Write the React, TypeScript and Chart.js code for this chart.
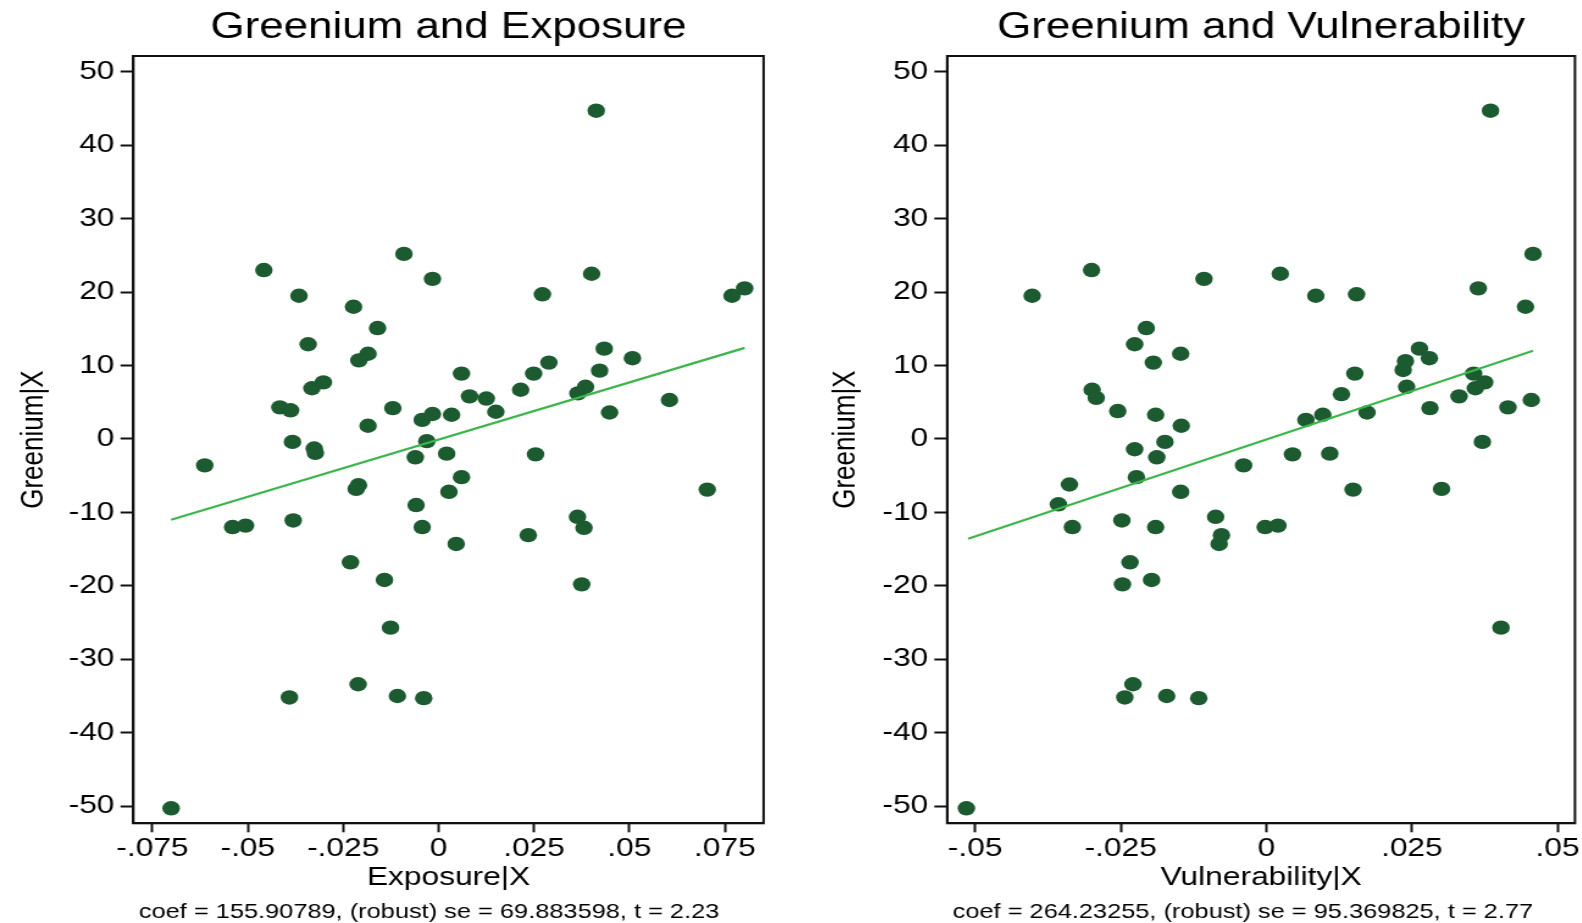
import React, { useEffect, useRef } from "react";
import { Chart, registerables } from "chart.js";

Chart.register(...registerables);

// ---------------- data ----------------
const exposureX = [-0.0701, -0.0613, -0.054, -0.0506, -0.0458, -0.0366, -0.0416, -0.0388, -0.0383, -0.0381, -0.0391, -0.0342, -0.0332, -0.0302, -0.0326, -0.0323, -0.0223, -0.0209, -0.0185, -0.016, -0.0185, -0.0231, -0.021, -0.0216, -0.0211, -0.0142, -0.0126, -0.012, -0.0091, -0.0108, -0.0016, -0.0061, -0.0043, -0.0016, -0.0031, -0.0059, -0.0043, -0.0039, 0.0021, 0.0034, 0.0027, 0.006, 0.006, 0.0046, 0.0081, 0.0125, 0.015, 0.0215, 0.0249, 0.0289, 0.0272, 0.0254, 0.0235, 0.0365, 0.0385, 0.0422, 0.0434, 0.0401, 0.0413, 0.0448, 0.0364, 0.0381, 0.0375, 0.0508, 0.0605, 0.0704, 0.0769, 0.0802];
const exposureY = [-50.3, -3.6, -12.0, -11.8, 23.0, 19.5, 4.3, 3.9, -0.4, -11.1, -35.2, 12.9, 6.9, 7.7, -1.3, -1.9, 18.0, 10.7, 11.6, 15.1, 1.8, -16.8, -6.3, -6.8, -33.4, -19.2, -25.7, 4.2, 25.2, -35.0, 21.8, -2.5, 2.6, 3.4, -0.3, -9.0, -12.0, -35.3, -2.0, 3.3, -7.2, 8.9, -5.2, -14.3, 5.8, 5.5, 3.7, 6.7, 8.9, 10.4, 19.7, -2.1, -13.1, 6.2, 7.1, 9.3, 12.3, 22.5, 44.7, 3.6, -10.6, -12.1, -19.8, 11.0, 5.3, -6.9, 19.5, 20.5];
const exposureFitX = [-0.0701, 0.0802];
const exposureFitY = [-11.0, 12.4];
const exposureTicks = [-0.075, -0.05, -0.025, 0, 0.025, 0.05, 0.075];
const exposureTickLabels = ["-.075", "-.05", "-.025", "0", ".025", ".05", ".075"];

const vulnX = [-0.0515, -0.0402, -0.03, -0.0357, -0.0338, -0.0333, -0.0299, -0.0292, -0.0255, -0.0248, -0.0247, -0.0243, -0.0234, -0.0229, -0.0226, -0.0226, -0.0223, -0.0206, -0.0194, -0.019, -0.0188, -0.019, -0.0197, -0.0174, -0.0171, -0.0147, -0.0146, -0.0147, -0.0116, -0.0107, -0.0087, -0.0077, -0.0081, -0.0039, -0.0002, 0.002, 0.0024, 0.0045, 0.0068, 0.0085, 0.0097, 0.0109, 0.0129, 0.0152, 0.0155, 0.0149, 0.0173, 0.0235, 0.0239, 0.0241, 0.0263, 0.028, 0.0281, 0.0301, 0.0331, 0.0356, 0.0359, 0.0375, 0.0371, 0.0364, 0.0385, 0.0403, 0.0415, 0.0445, 0.0458, 0.0455];
const vulnY = [-50.3, 19.5, 23.0, -8.9, -6.2, -12.0, 6.7, 5.6, 3.8, -11.1, -19.8, -35.2, -16.8, -33.4, 12.9, -1.4, -5.2, 15.1, 10.4, 3.3, -2.5, -12.0, -19.2, -0.4, -35.0, 11.6, 1.8, -7.2, -35.3, 21.8, -10.6, -13.1, -14.3, -3.6, -12.0, -11.8, 22.5, -2.1, 2.6, 19.5, 3.3, -2.0, 6.1, 8.9, 19.7, -6.9, 3.6, 9.4, 10.6, 7.1, 12.3, 11.0, 4.2, -6.8, 5.8, 8.9, 6.9, 7.7, -0.4, 20.5, 44.7, -25.7, 4.3, 18.0, 25.2, 5.3];
const vulnFitX = [-0.0512, 0.0458];
const vulnFitY = [-13.6, 12.0];
const vulnTicks = [-0.05, -0.025, 0, 0.025, 0.05];
const vulnTickLabels = ["-.05", "-.025", "0", ".025", ".05"];

const yTicks = [-50, -40, -30, -20, -10, 0, 10, 20, 30, 40, 50];
const yTickLabels = ["-50", "-40", "-30", "-20", "-10", "0", "10", "20", "30", "40", "50"];

const exposureTitle = "Greenium and Exposure";
const exposureXTitle = "Exposure|X";
const exposureNote = "coef = 155.90789, (robust) se = 69.883598, t = 2.23";
const vulnTitle = "Greenium and Vulnerability";
const vulnXTitle = "Vulnerability|X";
const vulnNote = "coef = 264.23255, (robust) se = 95.369825, t = 2.77";
const yTitle = "Greenium|X";

// ---------------- style ----------------
const FONT = "'Liberation Sans', Arial, Helvetica, sans-serif";
const STRETCH = 1.22;
const MARKER = "#1c5a30";
const FITLINE = "#3cb54a";
const AXIS = "#111";

type PanelProps = {
  title: string;
  xTitle: string;
  note: string;
  xs: number[];
  ys: number[];
  fitX: number[];
  fitY: number[];
  xTicks: number[];
  xTickLabels: string[];
  xMin: number;
  xMax: number;
  left: number;
  width: number;
  padL: number;
  padR: number;
  yWidth: number;
};

function Panel(p: PanelProps) {
  const ref = useRef<HTMLCanvasElement | null>(null);
  useEffect(() => {
    if (!ref.current) return;
    const framePlugin = {
      id: "frame",
      afterDraw(chart: any) {
        const { ctx, chartArea: a } = chart;
        ctx.save();
        ctx.strokeStyle = AXIS;
        ctx.lineWidth = 2;
        ctx.strokeRect(a.left, a.top, a.right - a.left, a.bottom - a.top);
        ctx.fillStyle = "#000";
        ctx.font = `20.8px ${FONT}`;
        ctx.textAlign = "left";
        ctx.textBaseline = "alphabetic";
        ctx.fillText(p.note, a.left + 4.5, 918);
        ctx.restore();
      },
    };
    const chart = new Chart(ref.current, {
      type: "scatter",
      data: {
        datasets: [
          {
            type: "line",
            data: p.fitX.map((x, i) => ({ x, y: p.fitY[i] })),
            borderColor: FITLINE,
            borderWidth: 2.2,
            pointRadius: 0,
            fill: false,
          } as any,
          {
            data: p.xs.map((x, i) => ({ x, y: p.ys[i] })),
            backgroundColor: MARKER,
            borderWidth: 0,
            pointRadius: 7.2,
            pointHoverRadius: 7.2,
          },
        ],
      },
      options: {
        animation: false,
        responsive: true,
        maintainAspectRatio: false,
        events: [],
        layout: { padding: { left: p.padL, right: p.padR, top: 0, bottom: 29.3 } },
        plugins: {
          legend: { display: false },
          tooltip: { enabled: false },
          title: {
            display: true,
            text: p.title,
            fullSize: false,
            color: "#000",
            font: { family: FONT, size: 36, weight: "normal", lineHeight: 1.2 },
            padding: { top: 6.4, bottom: 6.4 },
          },
        },
        scales: {
          x: {
            type: "linear",
            min: p.xMin,
            max: p.xMax,
            afterBuildTicks: (s: any) => {
              s.ticks = p.xTicks.map((v) => ({ value: v }));
            },
            ticks: {
              callback: (_v: any, i: number) => p.xTickLabels[i],
              color: "#000",
              font: { family: FONT, size: 26, lineHeight: 1.2 },
              padding: 0.5,
              maxRotation: 0,
              autoSkip: false,
            },
            grid: { drawOnChartArea: false, drawTicks: true, tickLength: 9, tickWidth: 2, tickColor: AXIS },
            border: { display: true, color: AXIS, width: 2 },
            title: {
              display: true,
              text: p.xTitle,
              color: "#000",
              font: { family: FONT, size: 26, lineHeight: 1.2 },
              padding: { top: -2, bottom: 0 },
            },
          },
          y: {
            type: "linear",
            min: -52.34,
            max: 52.15,
            afterBuildTicks: (s: any) => {
              s.ticks = yTicks.map((v) => ({ value: v }));
            },
            afterFit: (s: any) => {
              s.width = p.yWidth;
            },
            ticks: {
              callback: (_v: any, i: number) => yTickLabels[i],
              color: "#000",
              font: { family: FONT, size: 26, lineHeight: 1.2 },
              padding: 5,
              autoSkip: false,
            },
            grid: { drawOnChartArea: false, drawTicks: true, tickLength: 10.5, tickWidth: 2, tickColor: AXIS },
            border: { display: true, color: AXIS, width: 2 },
            title: {
              display: true,
              text: yTitle,
              color: "#000",
              font: { family: FONT, size: 26, lineHeight: 1.2 },
              padding: 0,
            },
          },
        },
      } as any,
      plugins: [framePlugin],
    });
    return () => chart.destroy();
  }, []);
  return (
    <div
      style={{
        position: "absolute",
        left: p.left,
        top: 0,
        width: p.width,
        height: 923,
        transform: `scaleX(${STRETCH})`,
        transformOrigin: "0 0",
      }}
    >
      <canvas ref={ref} />
    </div>
  );
}

export default function App() {
  return (
    <div
      style={{
        position: "fixed",
        left: 0,
        top: 0,
        width: 1582,
        height: 923,
        overflow: "hidden",
        background: "#fff",
      }}
    >
      <Panel
        title={exposureTitle}
        xTitle={exposureXTitle}
        note={exposureNote}
        xs={exposureX}
        ys={exposureY}
        fitX={exposureFitX}
        fitY={exposureFitY}
        xTicks={exposureTicks}
        xTickLabels={exposureTickLabels}
        xMin={-0.08}
        xMax={0.08517}
        left={0}
        width={650}
        padL={12.3}
        padR={24.1}
        yWidth={97.0}
      />
      <Panel
        title={vulnTitle}
        xTitle={vulnXTitle}
        note={vulnNote}
        xs={vulnX}
        ys={vulnY}
        fitX={vulnFitX}
        fitY={vulnFitY}
        xTicks={vulnTicks}
        xTickLabels={vulnTickLabels}
        xMin={-0.0548}
        xMax={0.053}
        left={790}
        width={700}
        padL={30.7}
        padR={56.6}
        yWidth={98.1}
      />
    </div>
  );
}
